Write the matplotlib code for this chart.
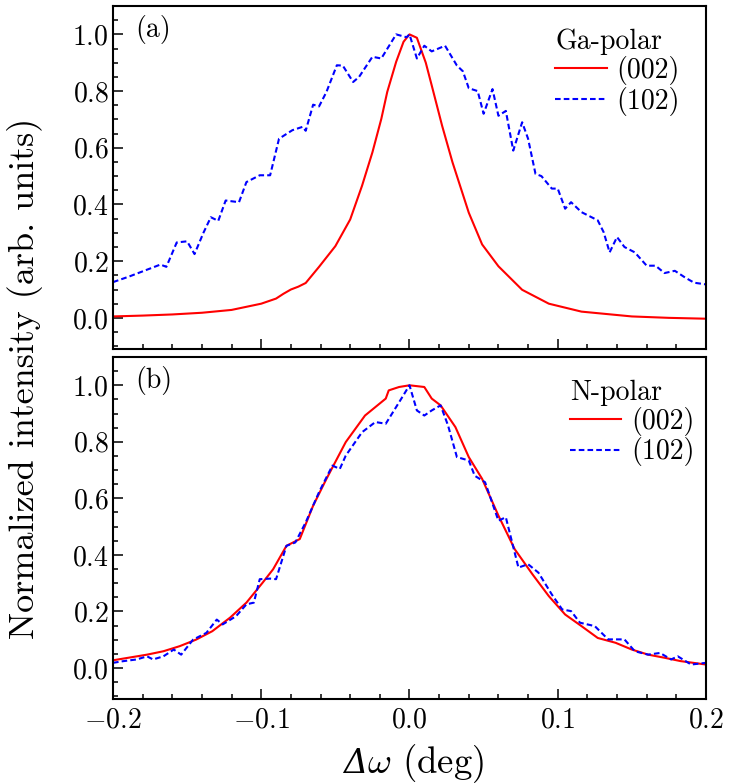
import matplotlib
matplotlib.use("Agg")
import matplotlib.pyplot as plt
from matplotlib.ticker import MultipleLocator, FuncFormatter

plt.rcParams['font.family'] = 'serif'
plt.rcParams['font.serif'] = ['cmr10']
plt.rcParams['mathtext.fontset'] = 'cm'
plt.rcParams['axes.formatter.use_mathtext'] = True

# (a) Ga-polar
ga_002_x = [-0.2, -0.18, -0.16, -0.14, -0.12, -0.1, -0.09, -0.085, -0.08, -0.075, -0.07, -0.061,
            -0.05, -0.04, -0.032, -0.025, -0.019, -0.015, -0.009, -0.004, 0.0, 0.005, 0.011,
            0.015, 0.022, 0.029, 0.04, 0.049, 0.06, 0.076, 0.094, 0.116, 0.15, 0.175, 0.2]
ga_002_y = [0.005, 0.008, 0.012, 0.018, 0.028, 0.05, 0.068, 0.085, 0.1, 0.11, 0.123, 0.18,
            0.253, 0.347, 0.466, 0.584, 0.702, 0.797, 0.903, 0.974, 1.0, 0.988, 0.90,
            0.82, 0.678, 0.549, 0.371, 0.259, 0.182, 0.099, 0.05, 0.022, 0.005, 0.0, -0.003]

ga_102_x = [-0.2, -0.189, -0.177, -0.168, -0.164, -0.157, -0.150, -0.145, -0.139, -0.134, -0.129,
            -0.124, -0.115, -0.110, -0.101, -0.094, -0.088, -0.079, -0.072, -0.070, -0.065, -0.061,
            -0.056, -0.049, -0.045, -0.038, -0.034, -0.025, -0.019, -0.009, -0.002, 0.0, 0.005,
            0.010, 0.015, 0.024, 0.032, 0.036, 0.040, 0.046, 0.050, 0.056, 0.060, 0.065, 0.070,
            0.076, 0.080, 0.085, 0.089, 0.096, 0.100, 0.105, 0.109, 0.116, 0.127, 0.131, 0.135,
            0.140, 0.145, 0.152, 0.160, 0.166, 0.172, 0.179, 0.186, 0.192, 0.2]
ga_102_y = [0.126, 0.146, 0.17, 0.188, 0.18, 0.266, 0.27, 0.225, 0.30, 0.355, 0.342,
            0.414, 0.408, 0.479, 0.503, 0.503, 0.632, 0.662, 0.674, 0.66, 0.752, 0.746,
            0.797, 0.891, 0.89, 0.832, 0.85, 0.921, 0.915, 1.0, 0.99, 1.0, 0.915,
            0.96, 0.94, 0.96, 0.89, 0.87, 0.81, 0.80, 0.72, 0.807, 0.713, 0.73, 0.59,
            0.69, 0.632, 0.508, 0.50, 0.456, 0.456, 0.385, 0.408, 0.373, 0.344, 0.302, 0.231,
            0.285, 0.25, 0.231, 0.184, 0.184, 0.158, 0.166, 0.142, 0.124, 0.118]

# (b) N-polar
n_002_x = [-0.2, -0.177, -0.166, -0.155, -0.144, -0.133, -0.121, -0.110, -0.099, -0.092, -0.083,
           -0.074, -0.065, -0.056, -0.043, -0.030, -0.016, -0.014, -0.007, 0.0, 0.010, 0.015,
           0.021, 0.031, 0.040, 0.049, 0.060, 0.071, 0.083, 0.094, 0.105, 0.116, 0.127, 0.139,
           0.150, 0.161, 0.172, 0.183, 0.2]
n_002_y = [0.027, 0.047, 0.059, 0.077, 0.10, 0.13, 0.178, 0.231, 0.302, 0.349, 0.432,
           0.456, 0.574, 0.669, 0.799, 0.893, 0.953, 0.982, 0.994, 1.0, 0.994, 0.953,
           0.929, 0.852, 0.746, 0.669, 0.539, 0.42, 0.331, 0.254, 0.189, 0.148, 0.106, 0.089,
           0.065, 0.047, 0.036, 0.024, 0.012]

n_102_x = [-0.2, -0.193, -0.184, -0.177, -0.173, -0.166, -0.159, -0.154, -0.146, -0.137, -0.130,
           -0.126, -0.117, -0.110, -0.105, -0.101, -0.094, -0.090, -0.083, -0.077, -0.070, -0.061,
           -0.052, -0.047, -0.043, -0.032, -0.023, -0.016, -0.007, 0.0, 0.005, 0.010, 0.015,
           0.021, 0.026, 0.032, 0.040, 0.044, 0.051, 0.060, 0.065, 0.0735, 0.080, 0.087, 0.096,
           0.103, 0.109, 0.115, 0.125, 0.134, 0.145, 0.152, 0.161, 0.169, 0.1765, 0.181, 0.190,
           0.2]
n_102_y = [0.018, 0.024, 0.03, 0.041, 0.03, 0.041, 0.065, 0.047, 0.10, 0.124, 0.171,
           0.154, 0.183, 0.225, 0.231, 0.314, 0.316, 0.314, 0.432, 0.444, 0.515, 0.622,
           0.716, 0.704, 0.751, 0.834, 0.870, 0.864, 0.94, 1.0, 0.911, 0.893, 0.911,
           0.929, 0.858, 0.746, 0.734, 0.68, 0.657, 0.521, 0.533, 0.355, 0.367, 0.337, 0.26,
           0.207, 0.201, 0.160, 0.148, 0.101, 0.101, 0.059, 0.047, 0.053, 0.03, 0.041, 0.012,
           0.018]

panels = [
    ("(a)", "Ga-polar", ga_002_x, ga_002_y, ga_102_x, ga_102_y, (0.956, 0.935)),
    ("(b)", "N-polar", n_002_x, n_002_y, n_102_x, n_102_y, (0.981, 0.935)),
]

fig = plt.figure(figsize=(7.38, 7.84), dpi=100)
boxes = [[0.1531, 0.5548, 0.8035, 0.4375], [0.1531, 0.1084, 0.8035, 0.4362]]
fmt = FuncFormatter(lambda v, pos: f"${v:.1f}$")

for box, (tag, title, x1, y1, x2, y2, anchor) in zip(boxes, panels):
    ax = fig.add_axes(box)
    ax.plot(x1, y1, color="red", lw=1.5, label="(002)")
    ax.plot(x2, y2, color="blue", lw=1.5, ls=(0, (2.7, 1.5)), label="(102)")
    ax.set_xlim(-0.2, 0.2)
    ax.set_ylim(-0.11, 1.1)
    ax.xaxis.set_major_locator(MultipleLocator(0.1))
    ax.xaxis.set_minor_locator(MultipleLocator(0.02))
    ax.yaxis.set_major_locator(MultipleLocator(0.2))
    ax.yaxis.set_minor_locator(MultipleLocator(0.05))
    ax.tick_params(which="both", direction="in", top=False, right=False, labelsize=20, width=1.1)
    ax.tick_params(which="major", length=7.2)
    ax.tick_params(which="minor", length=3.6)
    ax.tick_params(axis="x", pad=6)
    ax.tick_params(axis="y", pad=3)
    ax.yaxis.set_major_formatter(fmt)
    ax.xaxis.set_major_formatter(fmt)
    for s in ax.spines.values():
        s.set_linewidth(1.5)
    ax.text(0.037, 0.975, tag, transform=ax.transAxes, fontsize=20, va="top", ha="left")
    ax.legend(title=title, loc="upper right", bbox_to_anchor=anchor, frameon=False,
              fontsize=20, title_fontsize=20, alignment="left", handlelength=1.85,
              handletextpad=0.35, labelspacing=0.05, borderpad=0, borderaxespad=0)
    if tag == "(a)":
        ax.tick_params(labelbottom=False)

# x label: italic Delta followed by omega
fig.text(0.497, 0.0135, "\u0394", family="DejaVu Serif", style="italic", fontsize=24,
         ha="right", va="baseline")
fig.text(0.497, 0.0135, r"$\omega$ (deg)", fontsize=26.5, ha="left", va="baseline")

fig.text(0.034, 0.518, "Normalized intensity (arb. units)", rotation=90, fontsize=26,
         va="center", ha="center")

fig.savefig("out.png", dpi=100)
